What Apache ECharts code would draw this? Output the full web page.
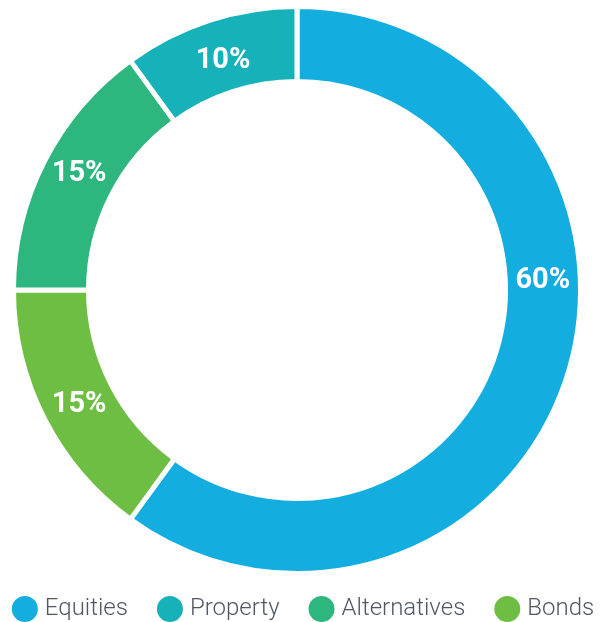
<!DOCTYPE html>
<html>
<head>
<meta charset="utf-8">
<script src="https://cdn.jsdelivr.net/npm/echarts@6/dist/echarts.min.js"></script>
<style>html,body{margin:0;padding:0;background:#fff}#c{width:604px;height:622px}</style>
</head>
<body>
<div id="c"></div>
<script>
var categories = ['Equities', 'Bonds', 'Alternatives', 'Property'];
var values = [60, 15, 15, 10];
var legendOrder = ['Equities', 'Property', 'Alternatives', 'Bonds'];
var colors = {Equities: '#13ADE0', Bonds: '#6EBE44', Alternatives: '#2DB77F', Property: '#17B1B9'};
var labelOffsets = {Equities: [9, -86], Bonds: [4, 2], Alternatives: [4, -3], Property: [3, 8]};

var chart = echarts.init(document.getElementById('c'));
var data = categories.map(function (name, i) {
  return {name: name, value: values[i], itemStyle: {color: colors[name]}, label: {offset: labelOffsets[name]}};
});
chart.setOption({
  animation: false,
  legend: {
    data: legendOrder,
    left: 'center',
    top: 594,
    padding: 0,
    icon: 'circle',
    itemWidth: 28,
    itemHeight: 28,
    itemGap: 27,
    textStyle: {fontFamily: 'Roboto', fontWeight: 300, fontSize: 24, color: '#4f5862', padding: [0, 0, 0, 1]}
  },
  series: [{
    type: 'pie',
    center: [297, 290],
    radius: [208.5, 283.5],
    startAngle: 90,
    clockwise: true,
    itemStyle: {borderColor: '#fff', borderWidth: 5},
    label: {
      show: true,
      position: 'inside',
      formatter: '{d}%',
      color: '#fff',
      fontFamily: 'Roboto',
      fontWeight: 'bold',
      fontSize: 29
    },
    labelLine: {show: false},
    emphasis: {disabled: true},
    data: data
  }]
});
</script>
</body>
</html>
